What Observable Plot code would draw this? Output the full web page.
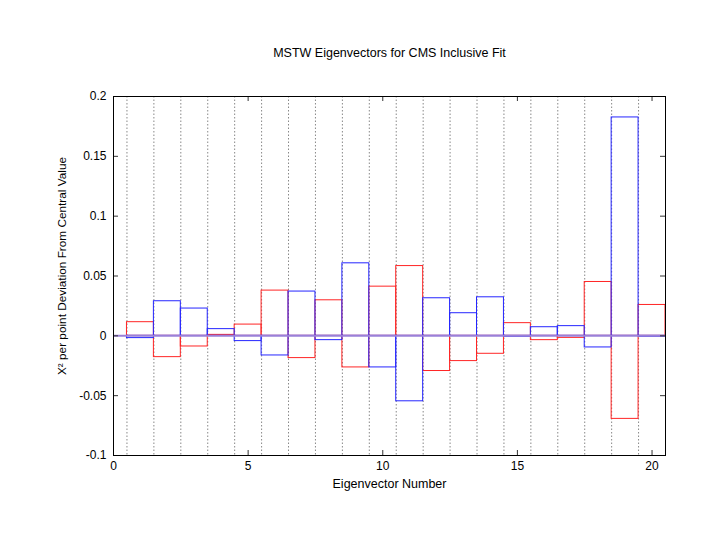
<!DOCTYPE html>
<html><head><meta charset="utf-8">
<script src="https://cdn.jsdelivr.net/npm/d3@7"></script>
<script src="https://cdn.jsdelivr.net/npm/@observablehq/plot@0.6"></script>
<style>body{margin:0;background:#fff;} svg{display:block}</style>
</head><body><div id="chart"></div>
<script>
const title = "MSTW Eigenvectors for CMS Inclusive Fit";
const xLabel = "Eigenvector Number";
const yLabel = "X² per point Deviation From Central Value";
const ids = [1,2,3,4,5,6,7,8,9,10,11,12,13,14,15,16,17,18,19,20];
const redVals = [0.0114,-0.0178,-0.0089,0.0008,0.0094,0.0378,-0.0186,0.0297,-0.0264,0.0411,0.0583,-0.0294,-0.0211,-0.0150,0.0106,-0.0036,-0.0017,0.0450,-0.0694,0.0258];
const blueVals = [-0.0019,0.0289,0.0228,0.0056,-0.0044,-0.0164,0.0370,-0.0036,0.0606,-0.0264,-0.0547,0.0314,0.0189,0.0322,-0.0008,0.0072,0.0081,-0.0097,0.1825,-0.0008];
const xTicks = [0,5,10,15,20];
const yTicks = [-0.1,-0.05,0,0.05,0.1,0.15,0.2];
const gridX = [0.5,1.5,2.5,3.5,4.5,5.5,6.5,7.5,8.5,9.5,10.5,11.5,12.5,13.5,14.5,15.5,16.5,17.5,18.5,19.5];

const W = 708, H = 547, mL = 113, mR = 43, mT = 96, mB = 92;
const iw = W - mL - mR, ih = H - mT - mB;
const rows = ids.map((id, i) => ({id, red: redVals[i], blue: blueVals[i]}));

const plot = Plot.plot({
  width: W, height: H,
  marginLeft: mL, marginRight: mR, marginTop: mT, marginBottom: mB,
  style: {fontFamily: "'Liberation Sans', Arial, sans-serif", fontSize: "12px", background: "white", color: "black"},
  x: {domain: [0, 20.5]},
  y: {domain: [-0.1, 0.2]},
  marks: [
    Plot.ruleX(gridX, {x: d => d, stroke: "#888", strokeDasharray: "1.5,2"}),
    Plot.rect(rows, {x1: d => d.id - 0.5, x2: d => d.id + 0.5, y1: d => 0, y2: "red", fill: "none", stroke: "#ff2525"}),
    Plot.rect(rows, {x1: d => d.id - 0.5, x2: d => d.id + 0.5, y1: d => 0, y2: "blue", fill: "none", stroke: "#2525ff"}),
    Plot.ruleY([0], {y: d => d, stroke: "#9a80d8", strokeWidth: 2}),
    Plot.tickY(yTicks, {y: d => d, insetRight: iw - 5, stroke: "#333"}),
    Plot.tickY(yTicks, {y: d => d, insetLeft: iw - 5, stroke: "#333"}),
    Plot.tickX(xTicks, {x: d => d, insetTop: ih - 5, stroke: "#333"}),
    Plot.tickX(xTicks, {x: d => d, insetBottom: ih - 5, stroke: "#333"}),
    Plot.frame({stroke: "black"}),
    Plot.axisY(yTicks, {tickSize: 0, tickPadding: 7, tickFormat: d => String(d), label: null, fontSize: 12}),
    Plot.axisX(xTicks, {tickSize: 0, tickPadding: 6, tickFormat: d => String(d), label: null, fontSize: 12}),
    Plot.text([title], {text: d => d, frameAnchor: "top", dy: -48, fontSize: 12.5}),
    Plot.text([xLabel], {text: d => d, frameAnchor: "bottom", dy: 32, fontSize: 12.5}),
    Plot.text([yLabel], {text: d => d, frameAnchor: "left", textAnchor: "middle", dx: -51, dy: -10, rotate: -90, fontSize: 11.8})
  ]
});
document.getElementById("chart").appendChild(plot);
</script>
</body></html>
